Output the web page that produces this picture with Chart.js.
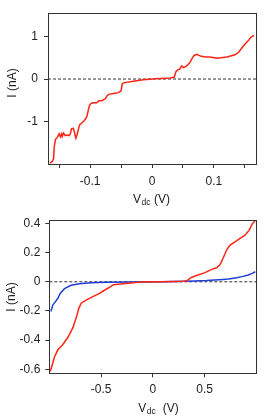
<!DOCTYPE html>
<html>
<head>
<meta charset="utf-8">
<script src="https://cdn.jsdelivr.net/npm/chart.js@4"></script>
<style>
  body { margin: 0; background: #fff; }
  #wrapTop { position: absolute; left: 0; top: 0; width: 280px; height: 208px; }
  #wrapBot { position: absolute; left: 0; top: 208px; width: 280px; height: 212px; }
</style>
</head>
<body>
<div id="wrapTop"><canvas id="topChart" width="280" height="208"></canvas></div>
<div id="wrapBot"><canvas id="botChart" width="280" height="212"></canvas></div>
<script>
// top panel: I-V, small bias
const topV = [-0.165, -0.161, -0.159, -0.158, -0.156, -0.154, -0.152, -0.150, -0.148, -0.146, -0.145, -0.143, -0.140, -0.137, -0.134, -0.132, -0.130, -0.127, -0.125, -0.123, -0.121, -0.119, -0.117, -0.114, -0.110, -0.107, -0.105, -0.103, -0.101, -0.098, -0.094, -0.089, -0.086, -0.081, -0.075, -0.073, -0.070, -0.062, -0.054, -0.050, -0.048, -0.046, -0.030, -0.014, 0.005, 0.030, 0.036, 0.0387, 0.041, 0.0445, 0.048, 0.051, 0.055, 0.061, 0.0645, 0.068, 0.0726, 0.078, 0.086, 0.094, 0.105, 0.121, 0.134, 0.140, 0.145, 0.150, 0.156, 0.160, 0.165];
const topI = [-1.98, -1.94, -1.88, -1.61, -1.42, -1.39, -1.35, -1.29, -1.36, -1.29, -1.35, -1.27, -1.33, -1.32, -1.33, -1.29, -1.17, -1.16, -1.27, -1.39, -1.31, -1.19, -1.08, -1.04, -0.99, -0.93, -0.87, -0.74, -0.62, -0.57, -0.56, -0.56, -0.51, -0.51, -0.46, -0.40, -0.36, -0.34, -0.32, -0.28, -0.11, -0.09, -0.05, -0.015, 0.007, 0.023, 0.046, 0.175, 0.21, 0.23, 0.31, 0.27, 0.30, 0.38, 0.48, 0.555, 0.58, 0.54, 0.52, 0.52, 0.49, 0.52, 0.57, 0.63, 0.73, 0.82, 0.91, 0.99, 1.03];

// bottom panel: red and blue sweeps
const botRedV = [-0.991, -0.972, -0.95, -0.917, -0.869, -0.82, -0.772, -0.74, -0.714, -0.692, -0.644, -0.58, -0.515, -0.467, -0.412, -0.38, -0.284, -0.12, 0.07, 0.20, 0.30, 0.33, 0.36, 0.408, 0.505, 0.57, 0.618, 0.65, 0.68, 0.714, 0.746, 0.794, 0.843, 0.891, 0.93, 0.961, 0.99];
const botRedI = [-0.615, -0.57, -0.515, -0.466, -0.43, -0.38, -0.314, -0.247, -0.18, -0.147, -0.125, -0.102, -0.08, -0.058, -0.035, -0.02, -0.013, -0.002, 0.0, 0.002, 0.004, 0.007, 0.025, 0.04, 0.063, 0.085, 0.096, 0.118, 0.163, 0.219, 0.252, 0.274, 0.297, 0.319, 0.352, 0.397, 0.42];
const botBlueV = [-0.985, -0.965, -0.94, -0.917, -0.895, -0.853, -0.789, -0.709, -0.60, -0.45, -0.2, 0.1, 0.4, 0.52, 0.60, 0.68, 0.73, 0.81, 0.87, 0.923, 0.96, 0.99];
const botBlueI = [-0.203, -0.158, -0.136, -0.113, -0.08, -0.047, -0.024, -0.013, -0.007, -0.004, -0.001, 0.001, 0.005, 0.008, 0.012, 0.016, 0.019, 0.028, 0.037, 0.047, 0.058, 0.069];

// axes
const topXRange = [-0.168, 0.168];
const topYRange = [-2.0, 1.55];
const topXTicks = [-0.15, -0.1, -0.05, 0, 0.05, 0.1, 0.15];
const topXLabels = ['', '-0.1', '', '0', '', '0.1', ''];
const topYTicks = [-1, 0, 1];
const topYLabels = ['-1', '0', '1'];

const botXRange = [-1.0, 1.0];
const botYRange = [-0.627, 0.422];
const botXTicks = [-0.5, 0, 0.5];
const botXLabels = ['-0.5', '0', '0.5'];
const botYTicks = [-0.6, -0.4, -0.2, 0, 0.2, 0.4];
const botYLabels = ['-0.6', '-0.4', '-0.2', '0', '0.2', '0.4'];

const FONT = '"Liberation Sans", Arial, sans-serif';

function pts(xs, ys) {
    return xs.map((x, i) => ({x: x, y: ys[i]}));
}

// frame box + axis titles (V with "dc" subscript)
const framePlugin = {
    id: 'frame',
    afterDraw(chart, args, opts) {
        const ctx = chart.ctx;
        const a = chart.chartArea;
        ctx.save();
        ctx.strokeStyle = '#333';
        ctx.lineWidth = 1;
        ctx.strokeRect(Math.round(a.left) + 0.5, Math.round(a.top) + 0.5,
            Math.round(a.right - a.left), Math.round(a.bottom - a.top));

        ctx.fillStyle = '#222';
        ctx.textBaseline = 'middle';

        // y title
        ctx.save();
        ctx.translate(opts.yTitle[0], opts.yTitle[1]);
        ctx.rotate(-Math.PI / 2);
        ctx.textAlign = 'center';
        ctx.font = '12px ' + FONT;
        ctx.fillText('I (nA)', 0, 0);
        ctx.restore();

        // x title
        ctx.textAlign = 'left';
        let x = opts.xTitle[0];
        const y = opts.xTitle[1];
        ctx.font = '12px ' + FONT;
        ctx.fillText('V', x, y);
        x += ctx.measureText('V').width + 0.5;
        ctx.font = '8.5px ' + FONT;
        ctx.fillText('dc', x, y + 3);
        x += ctx.measureText('dc').width + opts.gap;
        ctx.font = '12px ' + FONT;
        ctx.fillText('(V)', x, y);
        ctx.restore();
    }
};

function axis(range, ticks, labels, size, pad) {
    return {
        type: 'linear',
        min: range[0],
        max: range[1],
        afterBuildTicks: (scale) => { scale.ticks = ticks.map(v => ({value: v})); },
        afterFit: (scale) => {
            if (scale.isHorizontal()) scale.height = size; else scale.width = size;
        },
        border: {display: false},
        grid: {display: true, drawOnChartArea: false, drawTicks: true, tickLength: 4, color: '#333', tickColor: '#333'},
        ticks: {
            autoSkip: false,
            maxRotation: 0,
            padding: pad,
            color: '#222',
            font: {family: FONT, size: 12},
            callback: (v, i) => labels[i]
        }
    };
}

function zeroLine(range) {
    return {
        data: pts(range, [0, 0]),
        borderColor: '#333',
        borderWidth: 1,
        borderDash: [3, 2],
        pointRadius: 0,
        order: 5
    };
}

new Chart(document.getElementById('topChart'), {
    type: 'scatter',
    data: {
        datasets: [
            {data: pts(topV, topI), borderColor: '#ff2414', borderWidth: 1.5, pointRadius: 0, showLine: true, order: 1},
            Object.assign(zeroLine(topXRange), {showLine: true})
        ]
    },
    options: {
        responsive: false,
        animation: false,
        devicePixelRatio: 1,
        layout: {padding: {top: 8, right: 24, left: 0, bottom: 0}},
        plugins: {
            legend: {display: false},
            tooltip: {enabled: false},
            frame: {yTitle: [13, 83], xTitle: [133, 200], gap: 3.5}
        },
        scales: {
            x: axis(topXRange, topXTicks, topXLabels, 44, 6),
            y: axis(topYRange, topYTicks, topYLabels, 48, 6)
        }
    },
    plugins: [framePlugin]
});

new Chart(document.getElementById('botChart'), {
    type: 'scatter',
    data: {
        datasets: [
            {data: pts(botRedV, botRedI), borderColor: '#ff2414', borderWidth: 1.5, pointRadius: 0, showLine: true, order: 1},
            {data: pts(botBlueV, botBlueI), borderColor: '#1f3ed6', borderWidth: 1.5, pointRadius: 0, showLine: true, order: 2},
            Object.assign(zeroLine(botXRange), {showLine: true})
        ]
    },
    options: {
        responsive: false,
        animation: false,
        devicePixelRatio: 1,
        layout: {padding: {top: 8.7, right: 23.7, left: 0, bottom: 0}},
        plugins: {
            legend: {display: false},
            tooltip: {enabled: false},
            frame: {yTitle: [12, 89], xTitle: [138.3, 201], gap: 7}
        },
        scales: {
            x: axis(botXRange, botXTicks, botXLabels, 46.7, 5),
            y: axis(botYRange, botYTicks, botYLabels, 49.3, 5)
        }
    },
    plugins: [framePlugin]
});
</script>
</body>
</html>
